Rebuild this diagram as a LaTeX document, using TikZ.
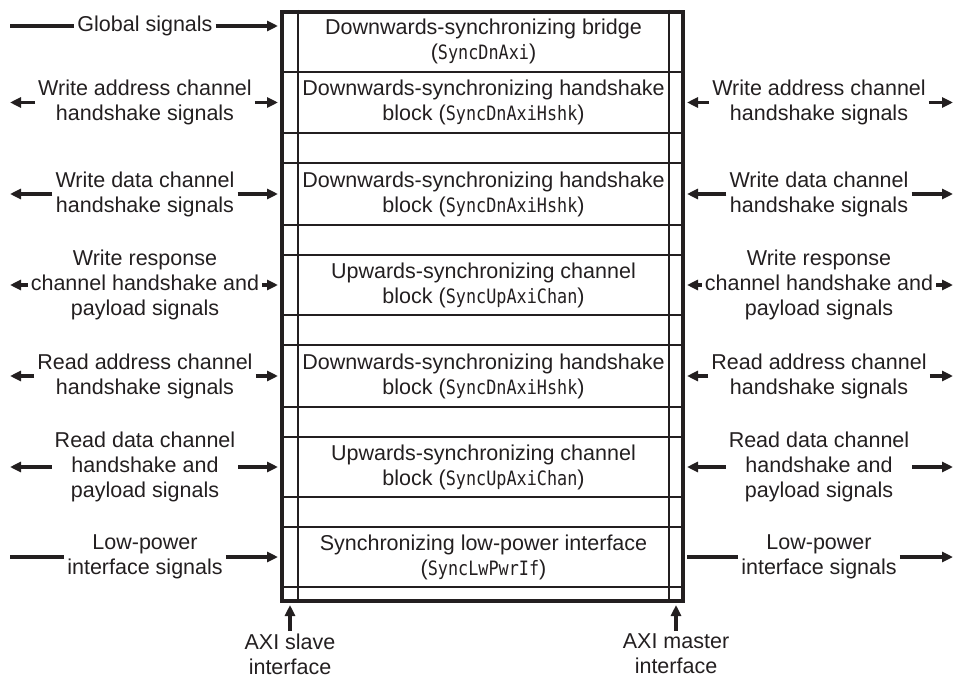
\documentclass[tikz,border=0pt]{standalone}
\usepackage{fontspec}
\setmainfont{Liberation Sans}
\setmonofont{DejaVu Sans Mono}[Scale=0.92, FakeStretch=0.85]
\usetikzlibrary{arrows.meta, positioning}
\definecolor{ink}{RGB}{35,31,32}

\begin{document}
\begin{tikzpicture}[x=1pt, y=-1pt,
        every node/.style={font=\fontsize{21.5}{25}\selectfont, text=ink, align=center, inner sep=3pt},
        sig/.style={draw=ink, line width=3.3pt},
        tip/.style={-{Triangle[length=11pt,width=10pt]}},
        grid/.style={draw=ink, line width=2.3pt},
        frame/.style={draw=ink, line width=4pt, minimum width=401pt, minimum height=589pt}]
        \useasboundingbox (0,0) rectangle (955,679);

        % the bridge and its blocks
        \coordinate (cl) at (298,0);
        \coordinate (cr) at (669,0);
        \foreach \y in {72,133,163,225,255,315,345,407,437,497,527,587}
            \draw[grid] (282,\y) -- (683,\y);
        \node (frame) [frame] at (482.5,306.5) {};
        \draw[grid] (cl |- frame.north) -- (cl |- frame.south);
        \draw[grid] (cr |- frame.north) -- (cr |- frame.south);

        \node (blk1) at (483.5,41) {Downwards-synchronizing bridge\\(\texttt{SyncDnAxi})};
        \node (blk2) at (483.5,102.5) {Downwards-synchronizing handshake\\block (\texttt{SyncDnAxiHshk})};
        \node (blk3) at (483.5,194) {Downwards-synchronizing handshake\\block (\texttt{SyncDnAxiHshk})};
        \node (blk4) at (483.5,285) {Upwards-synchronizing channel\\block (\texttt{SyncUpAxiChan})};
        \node (blk5) at (483.5,376) {Downwards-synchronizing handshake\\block (\texttt{SyncDnAxiHshk})};
        \node (blk6) at (483.5,467) {Upwards-synchronizing channel\\block (\texttt{SyncUpAxiChan})};
        \node (blk7) at (483.5,557) {Synchronizing low-power interface\\(\texttt{SyncLwPwrIf})};

        % signal groups
        \coordinate (lend) at (10,0);
        \coordinate (rend) at (953,0);
        \node (lgl) at (145,26) {Global signals};
        \node (lwa) at (145,102.5) {Write address channel\\handshake signals};
        \node (lwd) at (145,194) {Write data channel\\handshake signals};
        \node (lwr) at (145,285) {Write response\\channel handshake and\\payload signals};
        \node (lra) at (145,376) {Read address channel\\handshake signals};
        \node (lrd) at (145,467) {Read data channel\\handshake and\\payload signals};
        \node (llp) at (145,557) {Low-power\\interface signals};

        \node (rwa) at (819,102.5) {Write address channel\\handshake signals};
        \node (rwd) at (819,194) {Write data channel\\handshake signals};
        \node (rwr) at (819,285) {Write response\\channel handshake and\\payload signals};
        \node (rra) at (819,376) {Read address channel\\handshake signals};
        \node (rrd) at (819,467) {Read data channel\\handshake and\\payload signals};
        \node (rlp) at (819,557) {Low-power\\interface signals};

        \node (slave) [anchor=north] at (290,631) {AXI slave\\interface};
        \node (master) [anchor=north] at (676,631) {AXI master\\interface};

        \draw[sig] (lend |- lgl) -- (lgl.west);
        \draw[sig] (lend |- llp) -- (llp.west);
        \draw[sig, shorten <=2pt] (frame.east |- rlp) -- (rlp.west);
        \draw[sig, tip, shorten >=2pt] (lgl.east) -- (frame.west |- lgl);
        \draw[sig, tip, shorten >=2pt] (llp.east) -- (frame.west |- llp);
        \draw[sig, tip] (rlp.east) -- (rend |- rlp);
        \draw[sig, tip, shorten >=2pt] (slave.north) -- (slave.north |- frame.south);
        \draw[sig, tip, shorten >=2pt] (master.north) -- (master.north |- frame.south);

        \foreach \g in {wa,wd,wr,ra,rd} {
            \draw[sig, tip] (l\g.west) -- (lend |- l\g);
            \draw[sig, tip, shorten >=2pt] (l\g.east) -- (frame.west |- l\g);
            \draw[sig, tip, shorten >=2pt] (r\g.west) -- (frame.east |- r\g);
            \draw[sig, tip] (r\g.east) -- (rend |- r\g);
        }

    \end{tikzpicture}
\end{document}
